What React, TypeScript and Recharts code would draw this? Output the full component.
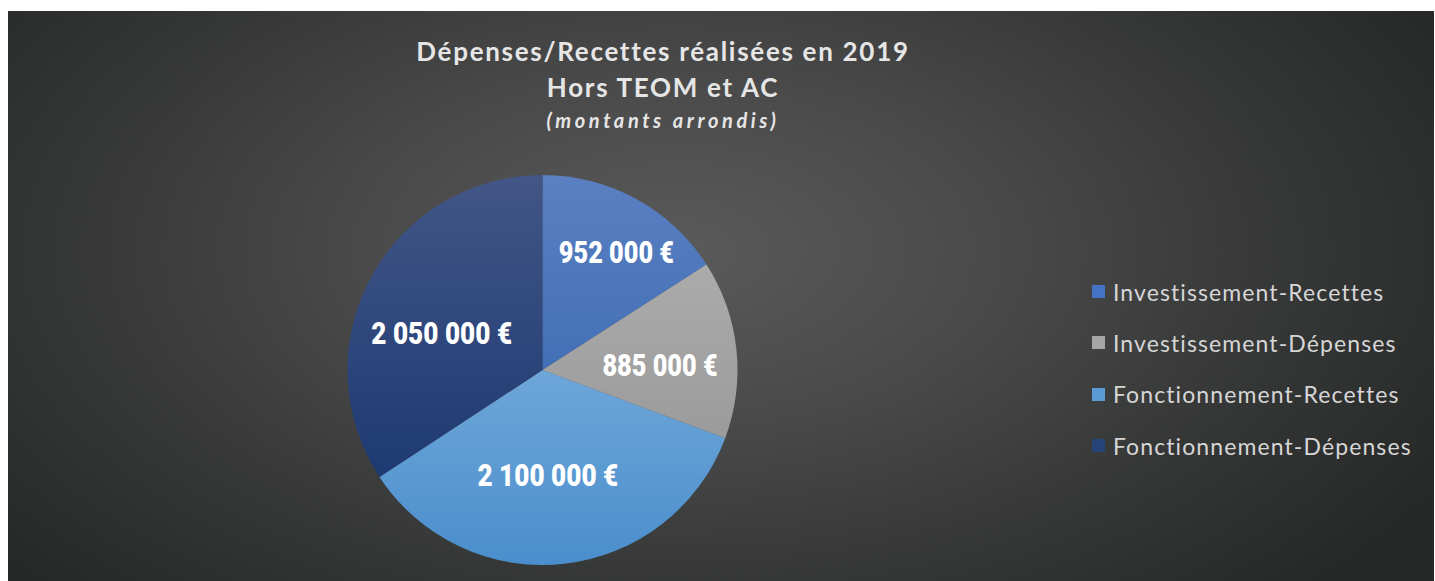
import React from 'react';
import { PieChart, Pie, Cell } from 'recharts';

// values (euros, rounded)
const categories = [
  'Investissement-Recettes',
  'Investissement-Dépenses',
  'Fonctionnement-Recettes',
  'Fonctionnement-Dépenses',
];
const amounts = [952000, 885000, 2100000, 2050000];
const amountLabels = ['952 000 €', '885 000 €', '2 100 000 €', '2 050 000 €'];

const legendColors = ['#4472c4', '#a5a5a5', '#5b9bd5', '#264478'];
const gradTop = ['#5b80c2', '#ababab', '#6ea6d8', '#425687'];
const gradBottom = ['#4270b6', '#9b9b9b', '#4a8ecd', '#1e3a72'];

// Excel "best fit" label placement: share of radius + small angle nudge
const labelRadius = [0.715, 0.603, 0.54, 0.55];
const labelNudge = [-3.4, -3.8, -3.5, 8.4];

const data = categories.map((name, i) => ({
  name,
  value: amounts[i],
}));

const W = 1426;
const H = 570;
const RAD = Math.PI / 180;

const renderLabel = (props: any) => {
  const { cx, cy, midAngle, outerRadius, index } = props;
  const r = outerRadius * labelRadius[index];
  const a = midAngle + labelNudge[index];
  const x = cx + r * Math.cos(-a * RAD);
  const y = cy + r * Math.sin(-a * RAD);
  const txt = amountLabels[index];
  // condensed look: squeeze the glyphs, no narrow font is installed
  return (
    <text
      x={x}
      y={y}
      fill="#ffffff"
      textAnchor="middle"
      dominantBaseline="central"
      textLength={txt.length * 12.8}
      lengthAdjust="spacingAndGlyphs"
      style={{
        fontFamily: 'Roboto, "Liberation Sans", sans-serif',
        fontWeight: 900,
        fontSize: 32,
      }}
    >
      {txt}
    </text>
  );
};

const LegendBox = () => (
  <div
    style={{
      position: 'absolute',
      left: 1084,
      top: 255,
      fontFamily: 'Lato, "Open Sans", sans-serif',
    }}
  >
    {categories.map((c, i) => (
      <div
        key={c}
        style={{
          display: 'flex',
          alignItems: 'center',
          height: 51.3,
          color: '#d6d6d6',
          fontSize: 23,
          letterSpacing: 1.1,
        }}
      >
        <span
          style={{
            display: 'inline-block',
            width: 13,
            height: 13,
            background: legendColors[i],
            marginRight: 8,
          }}
        />
        {c}
      </div>
    ))}
  </div>
);

export default function App() {
  return (
    <div
      style={{
        position: 'absolute',
        left: 8,
        top: 11,
        width: W,
        height: H,
        background:
          'radial-gradient(ellipse 62% 85% at 47% 42%, #5a5a5a 0%, #4a4a4a 35%, #353636 70%, #262828 100%)',
        overflow: 'hidden',
      }}
    >
      <div
        style={{
          position: 'absolute',
          left: 255,
          width: 800,
          top: 22,
          textAlign: 'center',
          color: '#e6e6e6',
          fontFamily: 'Lato, "Open Sans", sans-serif',
          fontWeight: 700,
        }}
      >
        <div style={{ fontSize: 26, letterSpacing: 1.7, lineHeight: '36px' }}>
          Dépenses/Recettes réalisées en 2019
        </div>
        <div style={{ fontSize: 26, letterSpacing: 1.7, lineHeight: '36px' }}>Hors TEOM et AC</div>
        <div style={{ fontSize: 20, fontStyle: 'italic', letterSpacing: 3.6, lineHeight: '30px' }}>
          (montants arrondis)
        </div>
      </div>
      <PieChart width={W} height={H} style={{ position: 'absolute', left: 0, top: 0 }}>
        <defs>
          {categories.map((c, i) => (
            <linearGradient key={c} id={`slice${i}`} x1="0" y1="0" x2="0" y2="1">
              <stop offset="0%" stopColor={gradTop[i]} />
              <stop offset="100%" stopColor={gradBottom[i]} />
            </linearGradient>
          ))}
        </defs>
        <Pie
          data={data}
          dataKey="value"
          nameKey="name"
          cx={529.5}
          cy={354}
          outerRadius={195}
          startAngle={90}
          endAngle={-270}
          stroke="none"
          label={renderLabel}
          labelLine={false}
          isAnimationActive={false}
        >
          {data.map((d, i) => (
            <Cell key={d.name} fill={`url(#slice${i})`} />
          ))}
        </Pie>
      </PieChart>
      <LegendBox />
    </div>
  );
}
